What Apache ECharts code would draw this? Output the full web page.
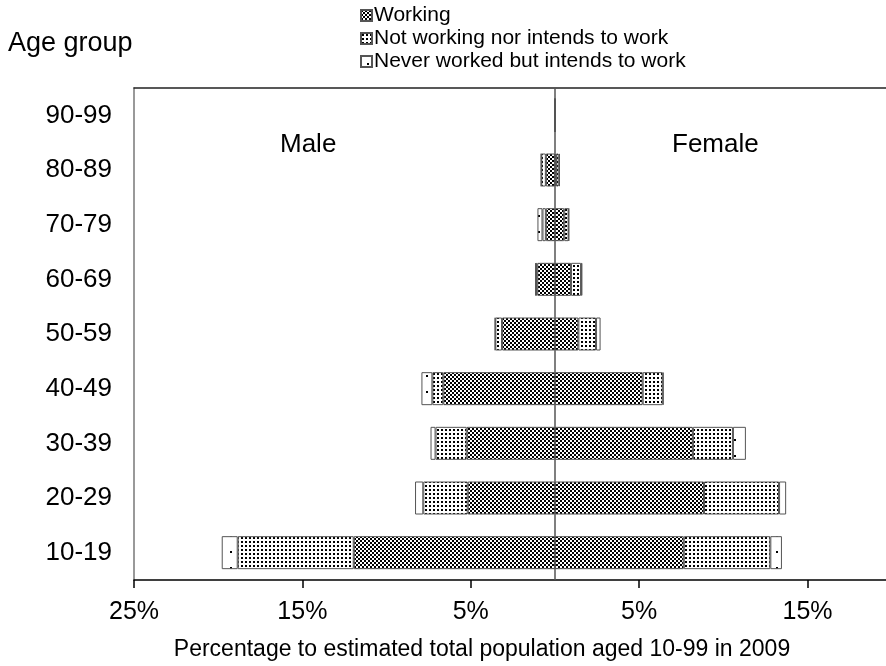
<!DOCTYPE html>
<html><head><meta charset="utf-8">
<script src="https://cdn.jsdelivr.net/npm/echarts@6/dist/echarts.min.js"></script>
<style>html,body{margin:0;padding:0;background:#fff}#c{width:886px;height:666px}</style>
</head><body><div id="c"></div>
<script>
const ageGroups = ['10-19','20-29','30-39','40-49','50-59','60-69','70-79','80-89','90-99'];
const maleWorking       = [11.95, 5.18, 5.24, 6.63, 3.14, 1.05, 0.54, 0.54, 0];
const maleNotWorking    = [ 6.89, 2.64, 1.85, 0.65, 0.40, 0.08, 0.20, 0.27, 0];
const maleNeverWorked   = [ 0.95, 0.49, 0.30, 0.65, 0.03, 0.04, 0.30, 0.02, 0];
const femaleWorking     = [ 7.65, 8.85, 8.19, 5.21, 1.39, 0.95, 0.55, 0.06, 0];
const femaleNotWorking  = [ 5.14, 4.46, 2.38, 1.19, 1.05, 0.60, 0.26, 0.16, 0];
const femaleNeverWorked = [ 0.69, 0.42, 0.77, 0.05, 0.27, 0.08, 0.02, 0.08, 0];
const xTickValues = [-25, -15, -5, 5, 15];
const seriesNames = ['Working', 'Not working nor intends to work', 'Never worked but intends to work'];

function makePattern(kind) {
  const c = document.createElement('canvas');
  let w = 4, h = 4;
  if (kind === 'sparse') { w = 14; h = 16; }
  if (kind === 'dots') { w = 4; h = 4; }
  c.width = w; c.height = h;
  const ctx = c.getContext('2d');
  ctx.fillStyle = '#fff'; ctx.fillRect(0, 0, w, h);
  ctx.fillStyle = '#000';
  if (kind === 'checker') {
    ctx.fillRect(0, 0, 2, 2); ctx.fillRect(2, 2, 2, 2);
  } else if (kind === 'dots') {
    ctx.fillRect(1, 1, 2, 2);
  } else {
    ctx.fillRect(6, 7, 2, 2);
  }
  return { image: c, repeat: 'repeat' };
}
const patterns = [makePattern('checker'), makePattern('dots'), makePattern('sparse')];

const F = "'Liberation Sans', Arial, sans-serif";
function barSeries(name, values, sign, idx, extra) {
  return Object.assign({
    name: name, type: 'bar', stack: 'all', barWidth: 33,
    data: values.map(v => sign * v),
    itemStyle: { color: patterns[idx], borderColor: '#555', borderWidth: 1 },
    emphasis: { disabled: true }
  }, extra || {});
}

const chart = echarts.init(document.getElementById('c'), null, { renderer: 'canvas' });
chart.setOption({
  animation: false,
  backgroundColor: '#fff',
  textStyle: { fontFamily: F },
  grid: { left: 134, right: 0, top: 88, bottom: 86, containLabel: false },
  legend: {
    orient: 'vertical', left: 355, top: 0, itemGap: 2,
    itemWidth: 11, itemHeight: 11, icon: 'rect',
    data: seriesNames,
    textStyle: { fontSize: 21, color: '#000', fontFamily: F, padding: [0, 0, 0, -3] }
  },
  xAxis: [{
    type: 'value', min: -25, max: 19.66,
    axisLine: { show: true, onZero: false, lineStyle: { color: '#000', width: 1.5 } },
    axisTick: { show: true, length: 8, inside: false, customValues: xTickValues, lineStyle: { color: '#000', width: 1.5 } },
    axisLabel: { customValues: xTickValues, formatter: v => Math.abs(v) + '%', fontSize: 25, color: '#000', margin: 20, fontFamily: F },
    splitLine: { show: false }
  }, {
    type: 'value', position: 'top', min: -25, max: 19.66,
    axisLine: { show: true, onZero: false, lineStyle: { color: '#222', width: 1.5 } },
    axisTick: { show: false }, axisLabel: { show: false }, splitLine: { show: false }
  }],
  yAxis: {
    type: 'category', data: ageGroups,
    axisLine: { show: true, onZero: false, lineStyle: { color: '#777', width: 1.5 } },
    axisTick: { show: false },
    axisLabel: { fontSize: 26, color: '#000', margin: 22, fontFamily: F }
  },
  series: [
    barSeries(seriesNames[0], maleWorking, -1, 0, {
      markLine: { silent: true, symbol: ['none', 'none'], label: { show: false },
        lineStyle: { color: '#555', width: 1.5, type: 'solid' }, data: [{ xAxis: 0 }] }
    }),
    barSeries(seriesNames[1], maleNotWorking, -1, 1),
    barSeries(seriesNames[2], maleNeverWorked, -1, 2),
    barSeries(seriesNames[0], femaleWorking, 1, 0),
    barSeries(seriesNames[1], femaleNotWorking, 1, 1),
    barSeries(seriesNames[2], femaleNeverWorked, 1, 2)
  ],
  graphic: [
    { type: 'text', left: 8, top: 30, style: { text: 'Age group', fontSize: 27, fill: '#000', fontFamily: F } },
    { type: 'text', left: 280, top: 132, style: { text: 'Male', fontSize: 26, fill: '#000', fontFamily: F } },
    { type: 'text', left: 672, top: 132, style: { text: 'Female', fontSize: 26, fill: '#000', fontFamily: F } },
    { type: 'text', x: 482, y: 638, style: { text: 'Percentage to estimated total population aged 10-99 in 2009', fontSize: 23, fill: '#000', fontFamily: F, align: 'center' } }
  ]
});
</script>
</body></html>
